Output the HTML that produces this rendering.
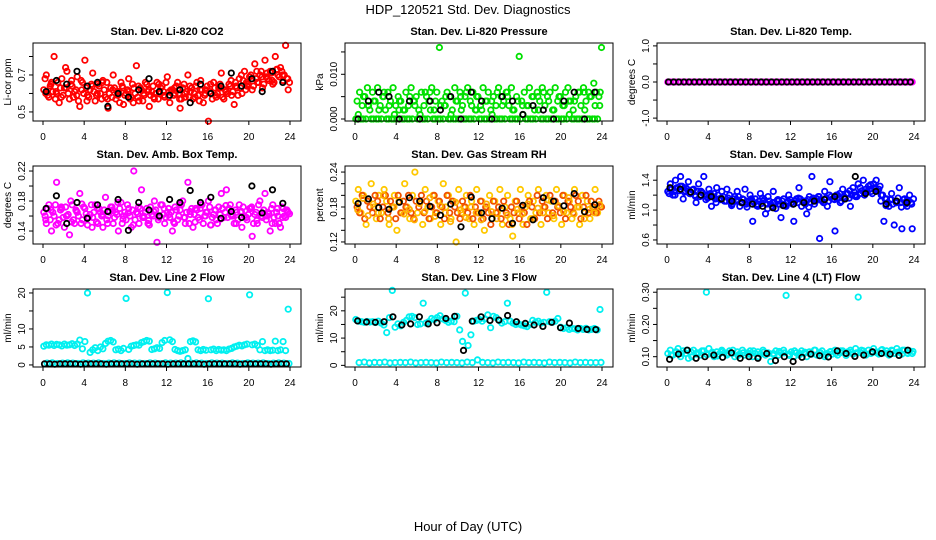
<!DOCTYPE html>
<html><head><meta charset="utf-8">
<style>
html,body{margin:0;padding:0;background:#fff;}
svg{display:block;font-family:"Liberation Sans",sans-serif;}
</style></head>
<body>
<svg id="chart" width="936" height="540" viewBox="0 0 936 540">
<text x="468" y="14" text-anchor="middle" font-size="13">HDP_120521  Std. Dev. Diagnostics</text>
<text x="468" y="531" text-anchor="middle" font-size="13">Hour of Day (UTC)</text>
<g id="panels"></g>
</svg>
<script>
const xTicks=[0,4,8,12,16,20,24];

const co2A=[0.62,0.70,0.58,0.66,0.80,0.60,0.55,0.68,0.63,0.72,0.57,0.64,0.61,0.69,0.53,0.66,0.78,0.59,0.62,0.71,0.56,0.65,0.60,0.67,0.58,0.52,0.63,0.70,0.57,0.61,0.66,0.54,0.60,0.68,0.58,0.63,0.75,0.56,0.62,0.59,0.65,0.53,0.61,0.57,0.66,0.60,0.64,0.58,0.69,0.55,0.62,0.60,0.66,0.52,0.63,0.58,0.70,0.61,0.57,0.64,0.59,0.67,0.55,0.62,0.45,0.60,0.66,0.58,0.63,0.71,0.57,0.61,0.65,0.59,0.54,0.63,0.68,0.60,0.72,0.64,0.69,0.62,0.76,0.66,0.70,0.63,0.78,0.68,0.72,0.65,0.80,0.70,0.74,0.67,0.86,0.62];
const co2B=[0.68,0.59,0.64,0.61,0.57,0.66,0.63,0.59,0.74,0.60,0.65,0.58,0.62,0.56,0.67,0.60,0.63,0.58,0.65,0.61,0.59,0.64,0.57,0.62,0.66,0.60,0.58,0.63,0.61,0.55,0.64,0.59,0.62,0.57,0.65,0.60,0.58,0.63,0.56,0.66,0.61,0.59,0.64,0.60,0.57,0.63,0.61,0.66,0.58,0.62,0.59,0.64,0.60,0.57,0.65,0.61,0.58,0.63,0.60,0.66,0.56,0.62,0.59,0.64,0.61,0.57,0.63,0.60,0.65,0.58,0.62,0.60,0.64,0.61,0.66,0.59,0.63,0.67,0.62,0.65,0.70,0.64,0.68,0.66,0.72,0.65,0.69,0.67,0.71,0.66,0.73,0.69,0.72,0.70,0.68,0.66];
const co2C=[0.60,0.65,0.61,0.58,0.63,0.67,0.59,0.62,0.56,0.64,0.60,0.66,0.57,0.62,0.59,0.63,0.61,0.55,0.64,0.60,0.62,0.58,0.65,0.59,0.61,0.63,0.57,0.60,0.64,0.58,0.62,0.60,0.65,0.59,0.63,0.61,0.67,0.64,0.70,0.66,0.68,0.72,0.69,0.71,0.67,0.73,0.70,0.68];
const co2K=[0.61,0.67,0.65,0.72,0.64,0.66,0.53,0.60,0.58,0.62,0.68,0.61,0.59,0.62,0.55,0.65,0.60,0.64,0.71,0.64,0.68,0.61,0.72,0.66];

const presA=[0.004,0.006,0.003,0.005,0.007,0.002,0.006,0.004,0.007,0.003,0.005,0.002,0.006,0.004,0.007,0.003,0.005,0.004,0.002,0.006,0.003,0.007,0.004,0.005,0.002,0.006,0.003,0.005,0.004,0.007,0.002,0.006,0.016,0.004,0.003,0.006,0.005,0.002,0.007,0.004,0.006,0.003,0.005,0.007,0.004,0.006,0.002,0.005,0.003,0.007,0.004,0.006,0.002,0.005,0.003,0.007,0.005,0.004,0.006,0.003,0.007,0.002,0.005,0.014,0.004,0.006,0.003,0.007,0.005,0.002,0.006,0.004,0.007,0.003,0.005,0.006,0.002,0.007,0.004,0.005,0.003,0.006,0.007,0.004,0.002,0.005,0.006,0.003,0.007,0.004,0.006,0.005,0.008,0.006,0.005,0.016];
const presB=[0,0.001,0,0.005,0,0.003,0,0.004,0,0.002,0,0.006,0,0.003,0,0.001,0,0.004,0,0.002,0,0.005,0,0.003,0,0.001,0,0.006,0,0.002,0,0.004,0,0.003,0,0.005,0,0.001,0,0.004,0,0.002,0,0.006,0,0.003,0,0.005,0,0.002,0,0.004,0,0.001,0,0.006,0,0.003,0,0.005,0,0.002,0,0.004,0,0.001,0,0.003,0,0.005,0,0.002,0,0.006,0,0.004,0,0.002,0,0.005,0,0.003,0,0.001,0,0.004,0,0.006,0,0.002,0,0.005,0,0.003,0,0.006];
const presC=[0,0,0.003,0,0,0.005,0,0,0.002,0,0,0.004,0,0,0.006,0,0,0.003,0,0,0.005,0,0,0.002,0,0,0.004,0,0,0.006,0,0,0.003,0,0,0.005,0,0,0.002,0,0,0.004,0,0,0.006,0,0,0.003];
const presK=[0,0.004,0.006,0.005,0,0.004,0,0.004,0.002,0.005,0,0.006,0.004,0,0.005,0.004,0.001,0.003,0.002,0,0.004,0.006,0,0.006];

const tempA=[0,0,0,0,0,0,0,0,0,0,0,0,0,0,0,0,0,0,0,0,0,0,0,0,0,0,0,0,0,0,0,0,0,0,0,0,0,0,0,0,0,0,0,0,0,0,0,0,0,0,0,0,0,0,0,0,0,0,0,0,0,0,0,0,0,0,0,0,0,0,0,0,0,0,0,0,0,0,0,0,0,0,0,0,0,0,0,0,0,0,0,0,0,0,0,0];
const tempK=[0,0,0,0,0,0,0,0,0,0,0,0,0,0,0,0,0,0,0,0,0,0,0,0,0,0,0,0,0,0,0,0,0,0,0,0,0,0,0,0,0,0,0,0,0,0,0,0];

const ambA=[0.165,0.150,0.175,0.140,0.160,0.205,0.155,0.170,0.145,0.160,0.135,0.175,0.150,0.165,0.190,0.155,0.170,0.148,0.162,0.158,0.175,0.150,0.165,0.145,0.185,0.160,0.172,0.150,0.165,0.140,0.178,0.160,0.155,0.170,0.145,0.220,0.165,0.150,0.195,0.158,0.170,0.148,0.162,0.180,0.125,0.160,0.175,0.150,0.165,0.158,0.140,0.172,0.155,0.168,0.180,0.150,0.205,0.162,0.145,0.170,0.158,0.175,0.150,0.165,0.180,0.148,0.162,0.155,0.172,0.190,0.158,0.195,0.170,0.160,0.150,0.165,0.175,0.145,0.160,0.155,0.170,0.133,0.162,0.150,0.180,0.158,0.190,0.165,0.140,0.175,0.150,0.160,0.145,0.170,0.158,0.165];
const ambB=[0.160,0.170,0.155,0.165,0.175,0.150,0.168,0.158,0.172,0.162,0.180,0.155,0.168,0.160,0.150,0.172,0.163,0.158,0.175,0.165,0.152,0.170,0.160,0.168,0.155,0.165,0.172,0.158,0.162,0.170,0.150,0.165,0.175,0.160,0.168,0.155,0.163,0.170,0.158,0.165,0.150,0.172,0.160,0.168,0.155,0.175,0.162,0.158,0.170,0.165,0.152,0.168,0.160,0.175,0.158,0.165,0.150,0.170,0.162,0.168,0.155,0.175,0.160,0.165,0.172,0.158,0.168,0.150,0.162,0.170,0.165,0.158,0.175,0.160,0.168,0.155,0.165,0.172,0.158,0.162,0.170,0.150,0.165,0.175,0.160,0.168,0.155,0.163,0.170,0.158,0.165,0.150,0.172,0.160,0.168,0.163];
const ambC=[0.155,0.168,0.148,0.172,0.160,0.152,0.166,0.176,0.158,0.145,0.170,0.162,0.150,0.168,0.178,0.156,0.164,0.148,0.172,0.160,0.154,0.166,0.158,0.170,0.162,0.150,0.176,0.158,0.166,0.152,0.170,0.160,0.148,0.168,0.156,0.174,0.162,0.150,0.166,0.158,0.172,0.154,0.164,0.160,0.150,0.170,0.158,0.166];
const ambK=[0.170,0.187,0.150,0.178,0.157,0.175,0.166,0.182,0.141,0.178,0.168,0.160,0.182,0.178,0.194,0.178,0.185,0.157,0.166,0.158,0.200,0.164,0.195,0.177];

const rhA=[0.19,0.21,0.17,0.20,0.15,0.19,0.22,0.18,0.16,0.20,0.17,0.21,0.19,0.15,0.18,0.20,0.14,0.19,0.17,0.22,0.18,0.16,0.20,0.24,0.17,0.19,0.15,0.21,0.18,0.16,0.20,0.17,0.19,0.15,0.22,0.18,0.20,0.16,0.19,0.12,0.21,0.17,0.18,0.20,0.16,0.19,0.15,0.21,0.17,0.19,0.14,0.18,0.20,0.16,0.19,0.17,0.21,0.15,0.18,0.20,0.16,0.13,0.19,0.17,0.21,0.15,0.18,0.20,0.16,0.19,0.17,0.21,0.15,0.18,0.20,0.17,0.19,0.16,0.21,0.18,0.15,0.20,0.17,0.19,0.16,0.21,0.18,0.15,0.20,0.17,0.19,0.16,0.18,0.21,0.17,0.18];
const rhB=[0.18,0.17,0.20,0.16,0.19,0.18,0.17,0.20,0.19,0.16,0.18,0.20,0.17,0.19,0.18,0.16,0.20,0.17,0.19,0.18,0.20,0.17,0.16,0.19,0.18,0.20,0.17,0.19,0.16,0.18,0.20,0.17,0.19,0.18,0.16,0.20,0.17,0.19,0.18,0.17,0.16,0.19,0.18,0.17,0.20,0.16,0.18,0.17,0.19,0.16,0.18,0.17,0.15,0.19,0.17,0.18,0.16,0.19,0.17,0.15,0.18,0.17,0.19,0.16,0.18,0.17,0.15,0.19,0.18,0.16,0.20,0.17,0.19,0.18,0.16,0.20,0.17,0.19,0.18,0.17,0.20,0.16,0.19,0.18,0.17,0.20,0.19,0.16,0.18,0.20,0.17,0.19,0.18,0.17,0.19,0.18];
const rhC=[0.175,0.195,0.165,0.185,0.170,0.200,0.160,0.180,0.190,0.168,0.176,0.158,0.186,0.172,0.196,0.164,0.182,0.170,0.155,0.188,0.175,0.162,0.180,0.170,0.158,0.185,0.172,0.160,0.178,0.166,0.150,0.176,0.168,0.185,0.160,0.178,0.170,0.192,0.165,0.182,0.172,0.196,0.168,0.180,0.160,0.176,0.170,0.184];
const rhK=[0.186,0.194,0.179,0.176,0.188,0.196,0.190,0.181,0.166,0.185,0.146,0.197,0.170,0.160,0.178,0.152,0.183,0.158,0.196,0.190,0.182,0.203,0.172,0.184];

const flowA=[1.25,1.35,1.20,1.40,1.30,1.45,1.15,1.30,1.38,1.22,1.28,1.10,1.35,1.25,1.45,1.18,1.28,1.05,1.22,1.30,1.15,1.25,1.12,1.28,1.20,1.08,1.18,1.25,1.05,1.15,1.28,1.10,1.20,0.85,1.15,1.05,1.22,1.12,0.95,1.18,1.08,1.25,1.02,1.12,0.90,1.15,1.05,1.20,1.10,0.85,1.15,1.30,1.05,1.12,0.95,1.18,1.45,1.08,1.15,0.62,1.12,1.25,1.05,1.38,1.15,0.72,1.20,1.10,1.28,1.15,1.22,1.05,1.30,1.18,1.35,1.22,1.40,1.28,1.32,1.25,1.35,1.40,1.28,1.20,0.85,1.15,1.05,1.22,0.80,1.10,1.30,0.75,1.15,1.05,1.20,0.75];
const flowB=[1.22,1.28,1.25,1.30,1.26,1.32,1.24,1.28,1.22,1.27,1.20,1.25,1.18,1.23,1.20,1.16,1.22,1.18,1.15,1.20,1.14,1.18,1.12,1.16,1.10,1.15,1.12,1.18,1.10,1.14,1.08,1.12,1.15,1.10,1.06,1.12,1.09,1.14,1.08,1.12,1.05,1.10,1.13,1.08,1.12,1.06,1.10,1.14,1.08,1.12,1.10,1.15,1.12,1.08,1.14,1.10,1.16,1.12,1.18,1.14,1.10,1.16,1.12,1.18,1.15,1.20,1.16,1.12,1.18,1.22,1.16,1.20,1.24,1.18,1.22,1.26,1.20,1.25,1.28,1.22,1.30,1.26,1.32,1.20,1.15,1.10,1.14,1.08,1.12,1.16,1.10,1.14,1.08,1.12,1.10,1.15];
const flowC=[1.28,1.20,1.32,1.26,1.22,1.18,1.25,1.14,1.20,1.10,1.16,1.12,1.06,1.14,1.10,1.04,1.12,1.08,1.16,1.02,1.10,1.14,1.06,1.12,1.08,1.16,1.10,1.04,1.14,1.18,1.10,1.20,1.14,1.22,1.16,1.26,1.20,1.30,1.24,1.34,1.28,1.12,1.06,1.14,1.10,1.04,1.12,1.08];
const flowK=[1.30,1.28,1.24,1.20,1.18,1.15,1.12,1.10,1.08,1.05,1.03,1.06,1.08,1.10,1.12,1.14,1.18,1.15,1.45,1.22,1.25,1.08,1.12,1.10];

const l2A=[5.2,5.6,5.5,5.8,5.4,5.7,5.6,5.3,5.8,5.5,5.6,5.9,5.4,5.8,6.9,4.5,6.5,20.0,3.5,4.2,4.8,4.0,5.0,4.5,6.0,6.6,6.8,6.4,4.2,4.4,4.0,4.6,18.5,4.3,5.2,5.4,5.6,5.5,6.2,6.5,6.8,6.6,4.3,4.5,4.8,4.6,6.2,6.8,20.1,7.0,6.5,4.3,4.0,3.8,4.0,4.2,1.8,6.5,6.7,6.4,4.2,4.0,4.3,4.1,18.4,4.2,4.4,4.0,4.3,4.1,4.2,4.0,4.4,4.6,5.0,5.2,5.5,5.3,5.6,5.8,19.5,5.6,5.8,5.4,4.2,6.5,4.0,4.2,4.0,4.1,6.6,4.0,4.2,6.5,4.0,15.5];
const l2Low=[0.5,0.6,0.4,0.5,0.6,0.5,0.4,0.6,0.5,0.5,0.6,0.4,0.5,0.6,0.5,0.4,0.6,0.5,0.5,0.4,0.6,0.5,0.4,0.6,0.5,0.5,0.6,0.4,0.5,0.6,0.5,0.4,0.6,0.5,0.5,0.4,0.6,0.5,0.4,0.6,0.5,0.5,0.6,0.4,0.5,0.6,0.5,0.4];
const l2K=[0.3,0.3,0.2,0.3,0.3,0.3,0.3,0.2,0.3,0.3,0.3,0.3,0.2,0.3,0.3,0.3,0.3,0.3,0.2,0.3,0.3,0.3,0.3,0.3,0.2,0.3,0.3,0.3,0.3,0.3,0.3,0.2,0.3,0.3,0.3,0.3,0.3,0.3,0.2,0.3,0.3,0.3,0.3,0.3,0.2,0.3,0.3,0.3];

const l3A=[16.8,16.2,16.0,15.8,16.1,15.9,16.0,15.7,16.2,15.5,14.8,12.0,17.5,27.5,14.0,15.2,14.5,15.8,16.5,17.8,18.0,17.5,15.0,15.2,22.8,15.5,16.0,17.2,16.8,17.5,18.2,17.0,16.5,15.8,16.2,16.0,18.0,13.0,8.8,26.5,7.3,11.2,16.2,16.5,16.8,16.2,17.0,18.5,13.8,18.0,17.5,16.5,15.5,16.0,22.8,16.2,15.5,15.0,15.2,14.8,14.5,14.2,15.0,16.5,15.8,16.2,15.5,15.8,26.8,16.0,15.8,16.2,17.2,14.0,13.5,13.8,13.2,13.5,13.4,13.0,13.5,13.2,13.6,13.0,13.2,13.5,13.0,20.5];
const l3Low=[1.0,1.2,0.9,1.1,1.0,1.2,0.9,1.0,1.1,1.0,1.2,0.9,1.0,1.1,1.0,0.9,1.2,1.0,1.1,1.0,0.9,1.2,1.0,2.0,1.1,1.0,0.9,1.2,1.0,1.1,1.0,0.9,1.2,1.0,1.1,1.0,0.9,1.2,1.0,1.1,1.0,0.9,1.2,1.0,1.1,1.0,1.0,1.1];
const l3K=[16.3,15.9,15.8,16.0,17.8,14.8,15.2,17.8,15.2,15.6,17.2,18.0,5.5,16.2,17.8,16.5,16.6,18.3,16.0,15.4,14.8,14.3,15.8,13.8,15.5,13.5,13.2,13.1];

const l4A=[0.110,0.120,0.105,0.115,0.125,0.100,0.118,0.110,0.095,0.115,0.120,0.108,0.112,0.105,0.118,0.300,0.125,0.110,0.100,0.115,0.108,0.120,0.112,0.105,0.118,0.110,0.100,0.115,0.108,0.120,0.105,0.112,0.118,0.100,0.110,0.115,0.108,0.120,0.105,0.112,0.085,0.110,0.118,0.105,0.112,0.120,0.290,0.108,0.115,0.100,0.112,0.105,0.118,0.110,0.100,0.115,0.108,0.120,0.105,0.112,0.118,0.100,0.110,0.115,0.108,0.120,0.105,0.112,0.118,0.110,0.115,0.120,0.108,0.125,0.285,0.112,0.118,0.105,0.120,0.110,0.125,0.115,0.108,0.120,0.112,0.118,0.105,0.120,0.110,0.125,0.115,0.108,0.120,0.112,0.118,0.110];
const l4B=[0.105,0.115,0.110,0.120,0.100,0.112,0.118,0.106,0.114,0.102,0.116,0.110,0.120,0.104,0.112,0.108,0.118,0.100,0.114,0.110,0.106,0.116,0.112,0.104,0.118,0.110,0.114,0.108,0.120,0.112,0.106,0.116,0.110,0.118,0.104,0.114,0.112,0.120,0.108,0.116,0.112,0.122,0.110,0.118,0.114,0.120,0.110,0.116];
const l4K=[0.092,0.108,0.120,0.095,0.100,0.105,0.098,0.112,0.095,0.100,0.095,0.110,0.088,0.100,0.085,0.098,0.108,0.103,0.099,0.118,0.110,0.101,0.105,0.115,0.110,0.108,0.104,0.120];

const panels=[
 {name:"co2",title:"Stan. Dev. Li-820 CO2",ylab:"Li-cor ppm",col:0,row:0,ymin:0.451,ymax:0.873,ticks:[0.5,0.6,0.7,0.8],labels:["0.5","","0.7",""],series:[[co2A,"#ff0000"],[co2B,"#ff0000"],[co2C,"#ff0000"],[co2K,"#000000"]]},
 {name:"pressure",title:"Stan. Dev. Li-820 Pressure",ylab:"kPa",col:1,row:0,ymin:-0.00045,ymax:0.017,ticks:[0,0.005,0.01,0.015],labels:["0.000","","0.010",""],series:[[presB,"#00e000"],[presA,"#00e000"],[presC,"#00e000"],[presK,"#000000"]]},
 {name:"temp",title:"Stan. Dev. Li-820 Temp.",ylab:"degrees C",col:2,row:0,ymin:-1.08,ymax:1.08,ticks:[-1,-0.5,0,0.5,1],labels:["-1.0","","0.0","","1.0"],series:[[tempA,"#ff00ff"],[tempK,"#000000"]]},
 {name:"amb-box-temp",title:"Stan. Dev. Amb. Box Temp.",ylab:"degrees C",col:0,row:1,ymin:0.1227,ymax:0.2267,ticks:[0.14,0.16,0.18,0.2,0.22],labels:["0.14","","0.18","","0.22"],series:[[ambA,"#ff00ff"],[ambB,"#ff00ff"],[ambC,"#ff00ff"],[ambK,"#000000"]]},
 {name:"gas-stream-rh",title:"Stan. Dev. Gas Stream RH",ylab:"percent",col:1,row:1,ymin:0.1165,ymax:0.2504,ticks:[0.12,0.14,0.16,0.18,0.2,0.22,0.24],labels:["0.12","","","0.18","","","0.24"],series:[[rhA,"#ffc800"],[rhB,"#f05000"],[rhC,"#ffb000"],[rhK,"#000000"]]},
 {name:"sample-flow",title:"Stan. Dev. Sample Flow",ylab:"ml/min",col:2,row:1,ymin:0.546,ymax:1.59,ticks:[0.6,0.8,1.0,1.2,1.4],labels:["0.6","","1.0","","1.4"],series:[[flowA,"#0000ff"],[flowB,"#0000ff"],[flowC,"#0000ff"],[flowK,"#000000"]]},
 {name:"line2-flow",title:"Stan. Dev. Line 2 Flow",ylab:"ml/min",col:0,row:2,ymin:-0.57,ymax:21.1,ticks:[0,5,10,15,20],labels:["0","5","10","","20"],series:[[l2A,"#00f0f0"],[l2Low,"#00f0f0"],[l2K,"#000000"]]},
 {name:"line3-flow",title:"Stan. Dev. Line 3 Flow",ylab:"ml/min",col:1,row:2,ymin:-0.6,ymax:28,ticks:[0,5,10,15,20,25],labels:["0","","10","","20",""],series:[[l3A,"#00f0f0"],[l3Low,"#00f0f0"],[l3K,"#000000"]]},
 {name:"line4-flow",title:"Stan. Dev. Line 4 (LT) Flow",ylab:"ml/min",col:2,row:2,ymin:0.068,ymax:0.31,ticks:[0.10,0.15,0.20,0.25,0.30],labels:["0.10","","0.20","","0.30"],series:[[l4A,"#00f0f0"],[l4B,"#00f0f0"],[l4K,"#000000"]]}
];

const NS="http://www.w3.org/2000/svg";
const root=document.getElementById('panels');
function mk(tag,attrs,parent){const e=document.createElementNS(NS,tag);for(const k in attrs)e.setAttribute(k,attrs[k]);parent.appendChild(e);return e;}
const offsets=[0,0.5,0.25,0];

panels.forEach(p=>{
  const bx=33+p.col*312, bw=268;
  const by=43+p.row*123, bh=78;
  const x0=bx+10, x1=bx+257;
  const xs=v=>x0+(x1-x0)*v/24;
  const ys=v=>by+bh-(v-p.ymin)/(p.ymax-p.ymin)*bh;
  const g=mk('g',{},root);
  
  
  const t=mk('text',{x:bx+bw/2,y:by-8,'text-anchor':'middle','font-size':'11','font-weight':'bold'},g);
  t.textContent=p.title;
  
  
  const pts=mk('g',{fill:'none','stroke-width':'1.8'},g);
  
  
  p.series.forEach(([arr,color],si)=>{
    const n=arr.length, off=(si===p.series.length-1)?0:offsets[si];
    arr.forEach((v,i)=>{
      const hx=Math.min(24,(i+0.3+off)*24/n);
      const c=mk('circle',{cx:xs(hx).toFixed(1),cy:ys(v).toFixed(1),r:'2.7',stroke:color},pts);
      
      
    });
  });
  const box=mk('rect',{x:bx,y:by,width:bw,height:bh,fill:'none',stroke:'#000','stroke-width':'1'},g);
  
  
  const xa=mk('g',{stroke:'#000','font-size':'10'},g);
  
  
  mk('line',{x1:xs(0),x2:xs(24),y1:by+bh,y2:by+bh},xa);
  xTicks.forEach(v=>{
    mk('line',{x1:xs(v),x2:xs(v),y1:by+bh,y2:by+bh+4},xa);
    const tx=mk('text',{x:xs(v),y:by+bh+19,'text-anchor':'middle',stroke:'none',fill:'#000'},xa);
    tx.textContent=v;
    
    
  });
  const ya=mk('g',{stroke:'#000','font-size':'10'},g);
  
  
  mk('line',{x1:bx,x2:bx,y1:ys(p.ticks[0]),y2:ys(p.ticks[p.ticks.length-1])},ya);
  p.ticks.forEach((v,i)=>{
    const y=ys(v);
    mk('line',{x1:bx-4,x2:bx,y1:y,y2:y},ya);
    if(p.labels[i]){
      const tx=mk('text',{x:bx-8,y:y,'text-anchor':'middle',stroke:'none',fill:'#000',transform:`rotate(-90 ${bx-8} ${y})`},ya);
      tx.textContent=p.labels[i];
      
      
    }
  });
  const yl=mk('text',{x:bx-22,y:by+bh/2,'text-anchor':'middle','font-size':'10',transform:`rotate(-90 ${bx-22} ${by+bh/2})`},g);
  yl.textContent=p.ylab;
  
  
});
</script>
</body></html>
